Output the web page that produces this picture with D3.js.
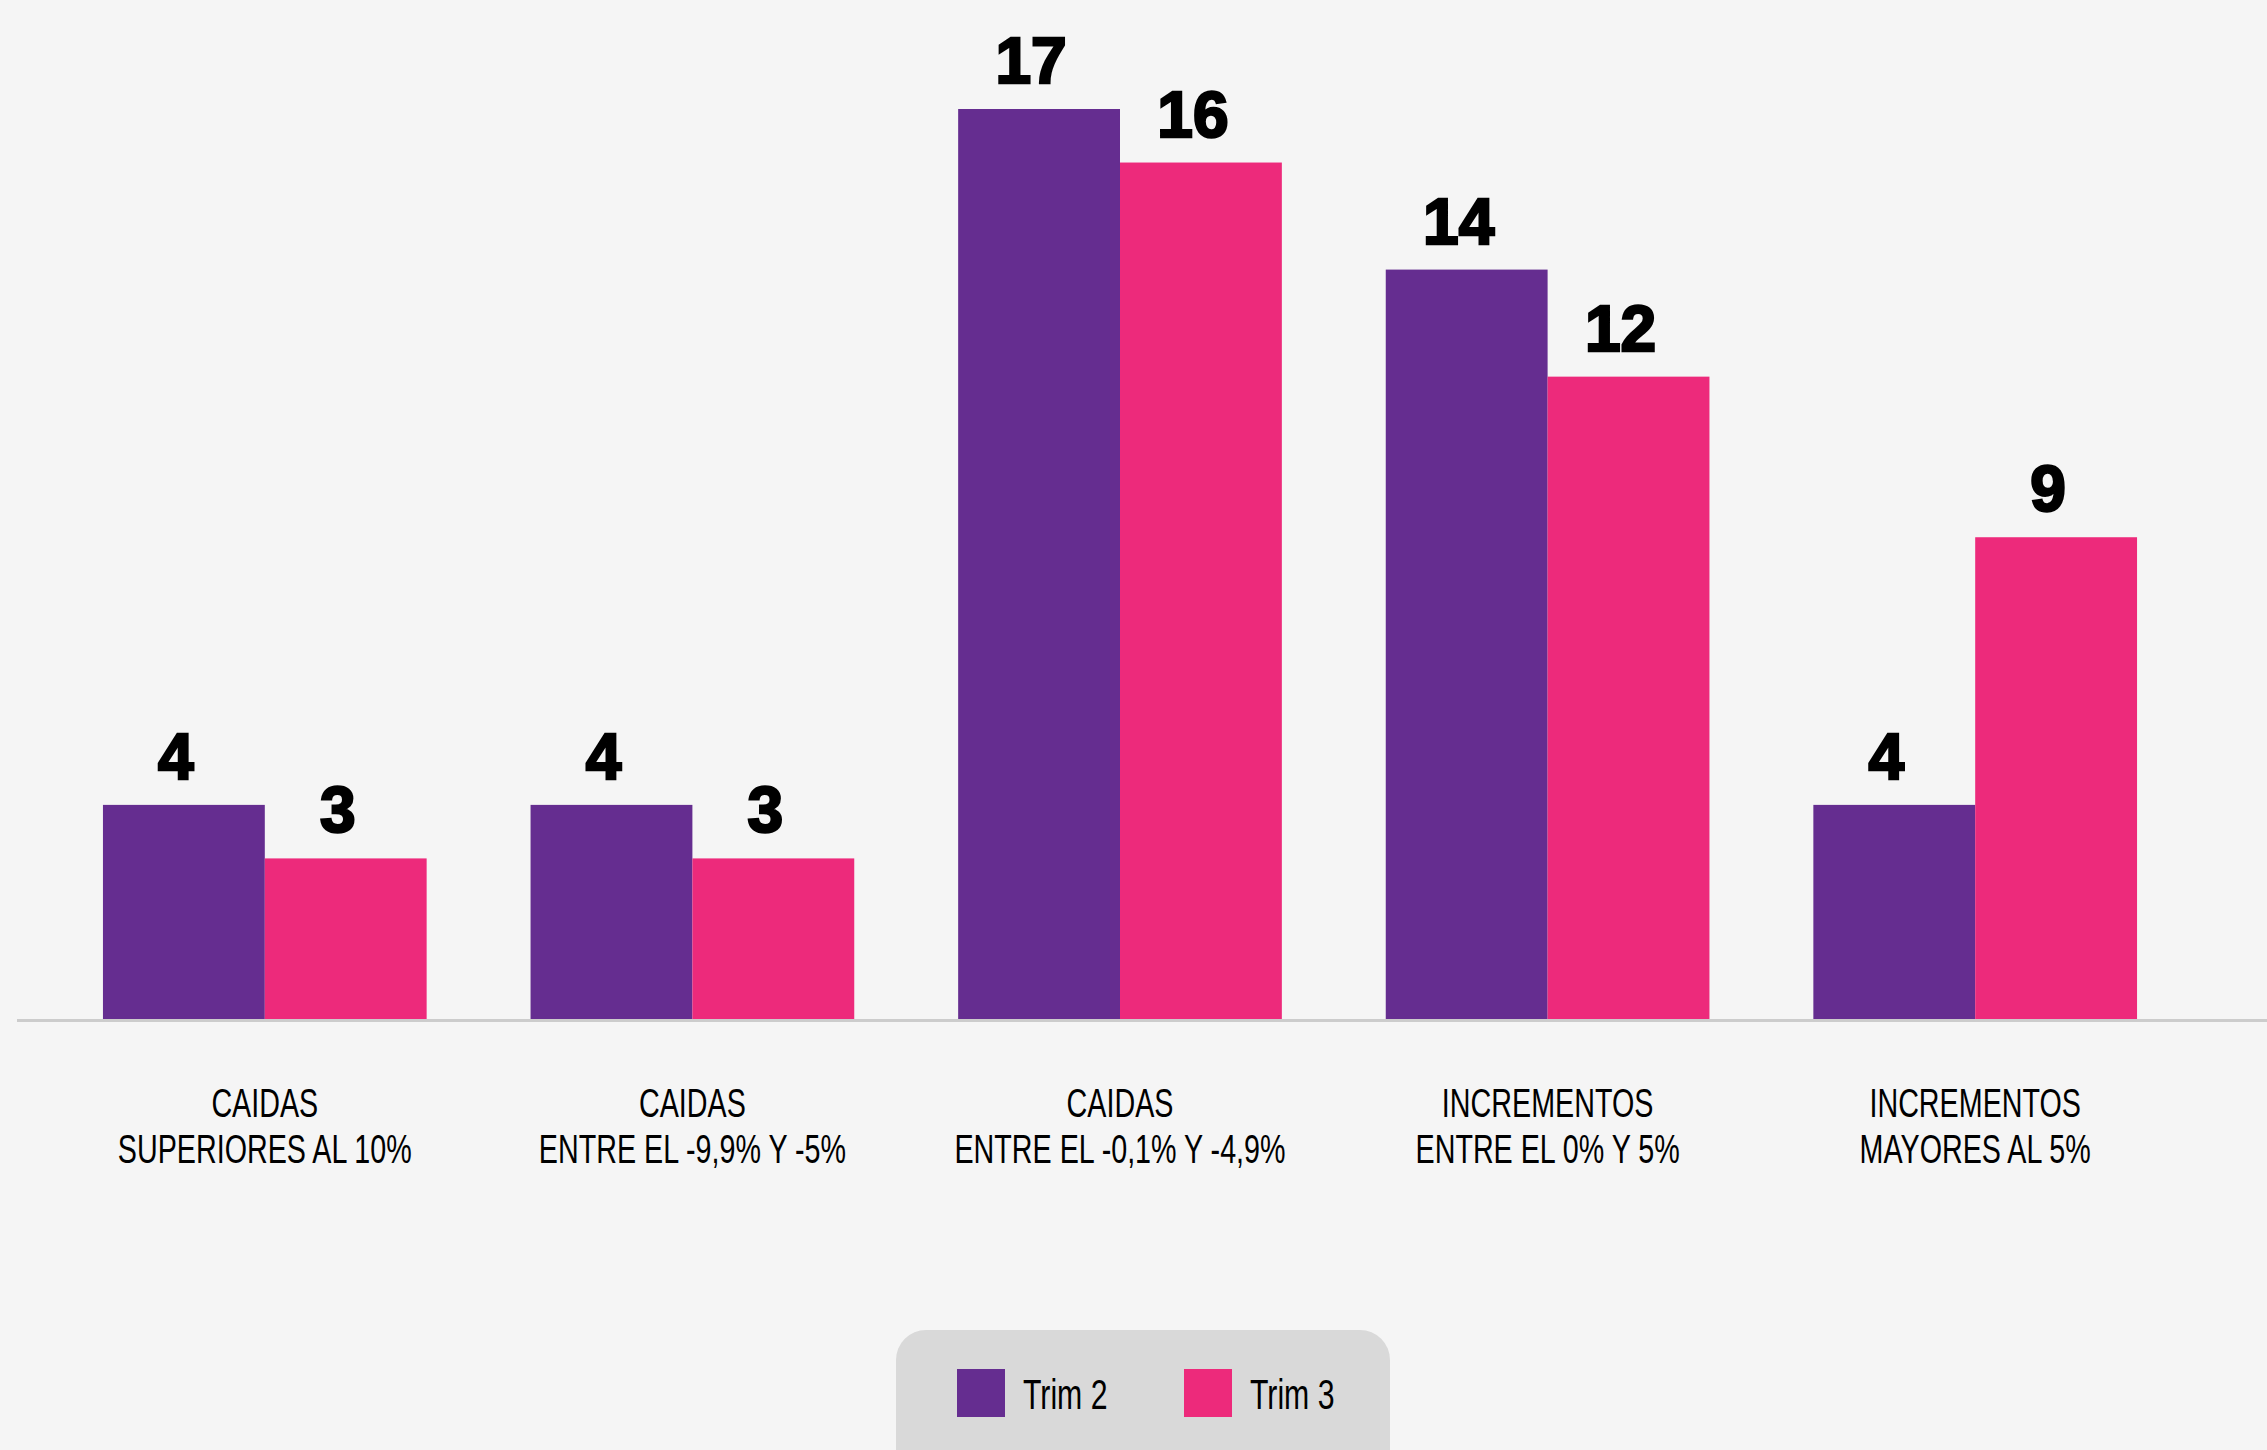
<!DOCTYPE html>
<html>
<head>
<meta charset="utf-8">
<script src="https://cdn.jsdelivr.net/npm/d3@7"></script>
<style>
  html, body { margin: 0; padding: 0; background: #f5f5f5; }
  svg { display: block; }
</style>
</head>
<body>
<script>
// Category labels (two lines each)
const categories = [
  ["CAIDAS", "SUPERIORES AL 10%"],
  ["CAIDAS", "ENTRE EL -9,9% Y -5%"],
  ["CAIDAS", "ENTRE EL -0,1% Y -4,9%"],
  ["INCREMENTOS", "ENTRE EL 0% Y 5%"],
  ["INCREMENTOS", "MAYORES AL 5%"]
];
const seriesNames = ["Trim 2", "Trim 3"];
const trim2 = [4, 4, 17, 14, 4];
const trim3 = [3, 3, 16, 12, 9];
const seriesColors = ["#652d90", "#ed2a7b"];

const W = 2267, H = 1450;
const svg = d3.select("body").append("svg").attr("width", W).attr("height", H);
svg.append("rect").attr("width", W).attr("height", H).attr("fill", "#f5f5f5");

const keys = categories.map((c, i) => i);
const x0 = d3.scaleBand().domain(keys).range([51, 2189]).paddingInner(0.243).paddingOuter(0.1215);
const x1 = d3.scaleBand().domain(seriesNames).range([0, x0.bandwidth()]);
const y = d3.scaleLinear().domain([0, 17]).range([1019, 109]);
const color = d3.scaleOrdinal().domain(seriesNames).range(seriesColors);

const rows = keys.map(i => ({ i, vals: [
  { s: seriesNames[0], v: trim2[i] },
  { s: seriesNames[1], v: trim3[i] }
]}));

const groups = svg.selectAll("g.grp").data(rows).join("g")
  .attr("class", "grp")
  .attr("transform", d => `translate(${x0(d.i)},0)`);

groups.selectAll("rect").data(d => d.vals).join("rect")
  .attr("x", d => x1(d.s))
  .attr("y", d => y(d.v))
  .attr("width", x1.bandwidth())
  .attr("height", d => y(0) - y(d.v))
  .attr("fill", d => color(d.s));

// value labels
groups.selectAll("text.val").data(d => d.vals).join("text")
  .attr("class", "val")
  .attr("x", d => x1(d.s) + x1.bandwidth() / 2 - 8)
  .attr("y", d => y(d.v) - 26)
  .attr("text-anchor", "middle")
  .attr("font-family", "'Liberation Sans', Arial, sans-serif")
  .attr("font-weight", "bold")
  .attr("font-size", 64)
  .attr("fill", "#000")
  .attr("stroke", "#000")
  .attr("stroke-width", 2.5)
  .text(d => d.v);

// baseline
svg.append("line")
  .attr("x1", 17).attr("x2", W)
  .attr("y1", y(0) + 1.5).attr("y2", y(0) + 1.5)
  .attr("stroke", "#cccccc").attr("stroke-width", 3);

// category labels, condensed
const condensed = 0.70;
const catG = svg.selectAll("g.cat").data(rows).join("g")
  .attr("class", "cat")
  .attr("transform", d => `translate(${x0(d.i) + x0.bandwidth() / 2},0) scale(${condensed},1)`);
catG.selectAll("text").data(d => categories[d.i]).join("text")
  .attr("x", 0)
  .attr("y", (d, j) => 1117 + j * 46)
  .attr("text-anchor", "middle")
  .attr("font-family", "'Liberation Sans', Arial, sans-serif")
  .attr("font-size", 41)
  .attr("fill", "#000")
  .text(d => d);

// legend
const leg = svg.append("g");
leg.append("rect")
  .attr("x", 896).attr("y", 1330).attr("width", 494).attr("height", 160)
  .attr("rx", 30).attr("ry", 30)
  .attr("fill", "#d9d9d9");
const legX = [957, 1184];
seriesNames.forEach((s, k) => {
  leg.append("rect")
    .attr("x", legX[k]).attr("y", 1369).attr("width", 48).attr("height", 48)
    .attr("fill", color(s));
  leg.append("text")
    .attr("transform", `translate(${legX[k] + 66},1409) scale(0.72,1)`)
    .attr("font-family", "'Liberation Sans', Arial, sans-serif")
    .attr("font-size", 42)
    .attr("fill", "#000")
    .text(s);
});
</script>
</body>
</html>
